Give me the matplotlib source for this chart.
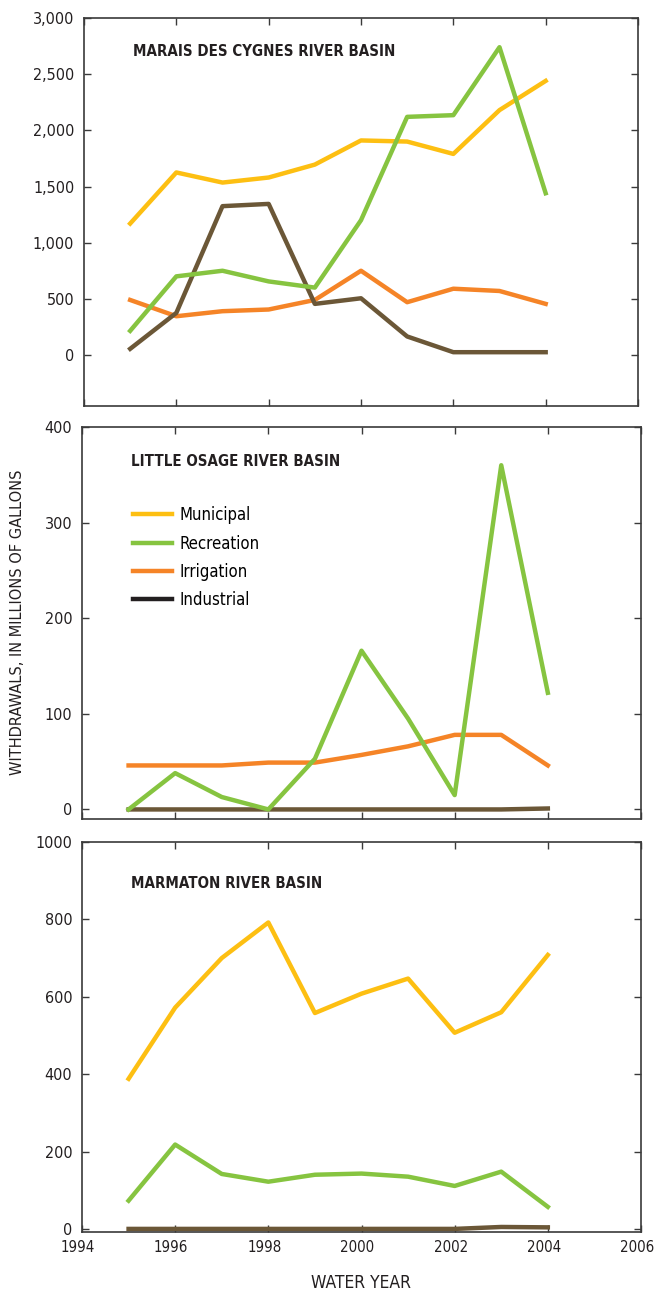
import matplotlib
matplotlib.use("Agg")
import matplotlib.pyplot as plt
import matplotlib.transforms as mtransforms
from matplotlib.lines import Line2D
from matplotlib import font_manager

# Water-use withdrawals by category, water years 1995-2004 (millions of gallons)
years = [1995, 1996, 1997, 1998, 1999, 2000, 2001, 2002, 2003, 2004]

marais_municipal = [1170, 1625, 1535, 1580, 1695, 1910, 1900, 1790, 2180, 2440]
marais_recreation = [215, 700, 750, 655, 600, 1200, 2120, 2135, 2740, 1440]
marais_irrigation = [490, 345, 390, 405, 490, 750, 470, 590, 570, 455]
marais_industrial = [55, 375, 1325, 1345, 455, 505, 165, 25, 25, 25]

osage_recreation = [0, 38, 13, 0, 53, 166, 95, 15, 360, 122]
osage_irrigation = [46, 46, 46, 49, 49, 57, 66, 78, 78, 46]
osage_industrial = [0, 0, 0, 0, 0, 0, 0, 0, 0, 1]

marmaton_municipal = [388, 572, 700, 792, 558, 608, 647, 507, 560, 708]
marmaton_recreation = [73, 218, 142, 122, 140, 143, 135, 111, 148, 57]
marmaton_industrial = [0, 0, 0, 0, 0, 0, 0, 0, 5, 4]

panel_titles = ["MARAIS DES CYGNES RIVER BASIN", "LITTLE OSAGE RIVER BASIN",
                "MARMATON RIVER BASIN"]
legend_labels = ["Municipal", "Recreation", "Irrigation", "Industrial"]

C_MUN = "#FDBF12"
C_REC = "#86C440"
C_IRR = "#F58427"
C_IND = "#6B5737"
C_IND_KEY = "#231F20"
C_TXT = "#231F20"
C_AX = "#3a3a3a"

# condensed face for labels, if one is installed
cond_files = [f for f in font_manager.fontManager.ttflist
              if f.name == "DejaVu Sans" and "ondensed" in f.fname]
if cond_files:
    COND = dict(family="DejaVu Sans", stretch="condensed")
else:
    COND = dict(family="DejaVu Sans")


def fp(size, weight="normal"):
    return font_manager.FontProperties(size=size, weight=weight, **COND)


fig = plt.figure(figsize=(6.54, 12.93), dpi=100)
W, H = 654, 1293


def add_axes(l, r, t, b):
    return fig.add_axes([l / W, 1 - b / H, (r - l) / W, (b - t) / H])


ax1 = add_axes(84, 638, 18, 406)
ax2 = add_axes(82, 641, 427, 819)
ax3 = add_axes(82, 641, 842, 1232)

LW = 3.2

ax1.plot(years, marais_municipal, color=C_MUN, lw=LW)
ax1.plot(years, marais_irrigation, color=C_IRR, lw=LW)
ax1.plot(years, marais_industrial, color=C_IND, lw=LW)
ax1.plot(years, marais_recreation, color=C_REC, lw=LW)

ax2.plot(years, osage_irrigation, color=C_IRR, lw=LW)
ax2.plot(years, osage_industrial, color=C_IND, lw=LW)
ax2.plot(years, osage_recreation, color=C_REC, lw=LW)

ax3.plot(years, marmaton_municipal, color=C_MUN, lw=LW)
ax3.plot(years, marmaton_recreation, color=C_REC, lw=LW)
ax3.plot(years, marmaton_industrial, color=C_IND, lw=LW)

ax1.set_ylim(-454, 3000)
ax1.set_yticks([0, 500, 1000, 1500, 2000, 2500, 3000])
ax1.set_yticklabels(["0", "500", "1,000", "1,500", "2,000", "2,500", "3,000"])
ax2.set_ylim(-10, 400)
ax2.set_yticks([0, 100, 200, 300, 400])
ax3.set_ylim(-8, 1000)
ax3.set_yticks([0, 200, 400, 600, 800, 1000])

shift_left = mtransforms.ScaledTranslation(-4 / 100, 0, fig.dpi_scale_trans)

for ax, title in zip((ax1, ax2, ax3), panel_titles):
    ax.set_xlim(1994, 2006)
    ax.set_xticks([1994, 1996, 1998, 2000, 2002, 2004, 2006])
    ax.tick_params(direction="in", length=5, width=1, color=C_AX,
                   top=True, right=True, labelcolor=C_TXT)
    ax.tick_params(axis="y", pad=7)
    ax.tick_params(axis="x", pad=6)
    for lab in ax.get_yticklabels():
        lab.set_fontproperties(fp(11.5))
    for lab in ax.get_xticklabels():
        lab.set_fontproperties(fp(10.8))
        lab.set_transform(lab.get_transform() + shift_left)
    for sp in ax.spines.values():
        sp.set_color(C_AX)
        sp.set_linewidth(1.2)
    if ax is not ax3:
        ax.tick_params(labelbottom=False)
    ax.text(0.088, 1 - (34 if ax is not ax3 else 41) / ax.bbox.height,
            title, transform=ax.transAxes, fontproperties=fp(10.8, "bold"),
            color=C_TXT, va="center", ha="left")

# legend for the middle panel
handles = [Line2D([0], [0], color=c, lw=LW)
           for c in (C_MUN, C_REC, C_IRR, C_IND_KEY)]
ax2.legend(handles, legend_labels, loc="upper left",
           bbox_to_anchor=(0.08, 0.815), frameon=False, handlelength=2.3,
           handletextpad=0.45, labelspacing=0.62, borderaxespad=0,
           prop=fp(12))

fig.text(18 / W, 1 - 622 / H, "WITHDRAWALS, IN MILLIONS OF GALLONS",
         rotation=90, ha="center", va="center", fontsize=10.5, color=C_TXT)
fig.text(361 / W, 1 - 1283 / H, "WATER YEAR", ha="center", va="center",
         fontproperties=fp(12.5), color=C_TXT)

fig.savefig("out.png", dpi=100)
